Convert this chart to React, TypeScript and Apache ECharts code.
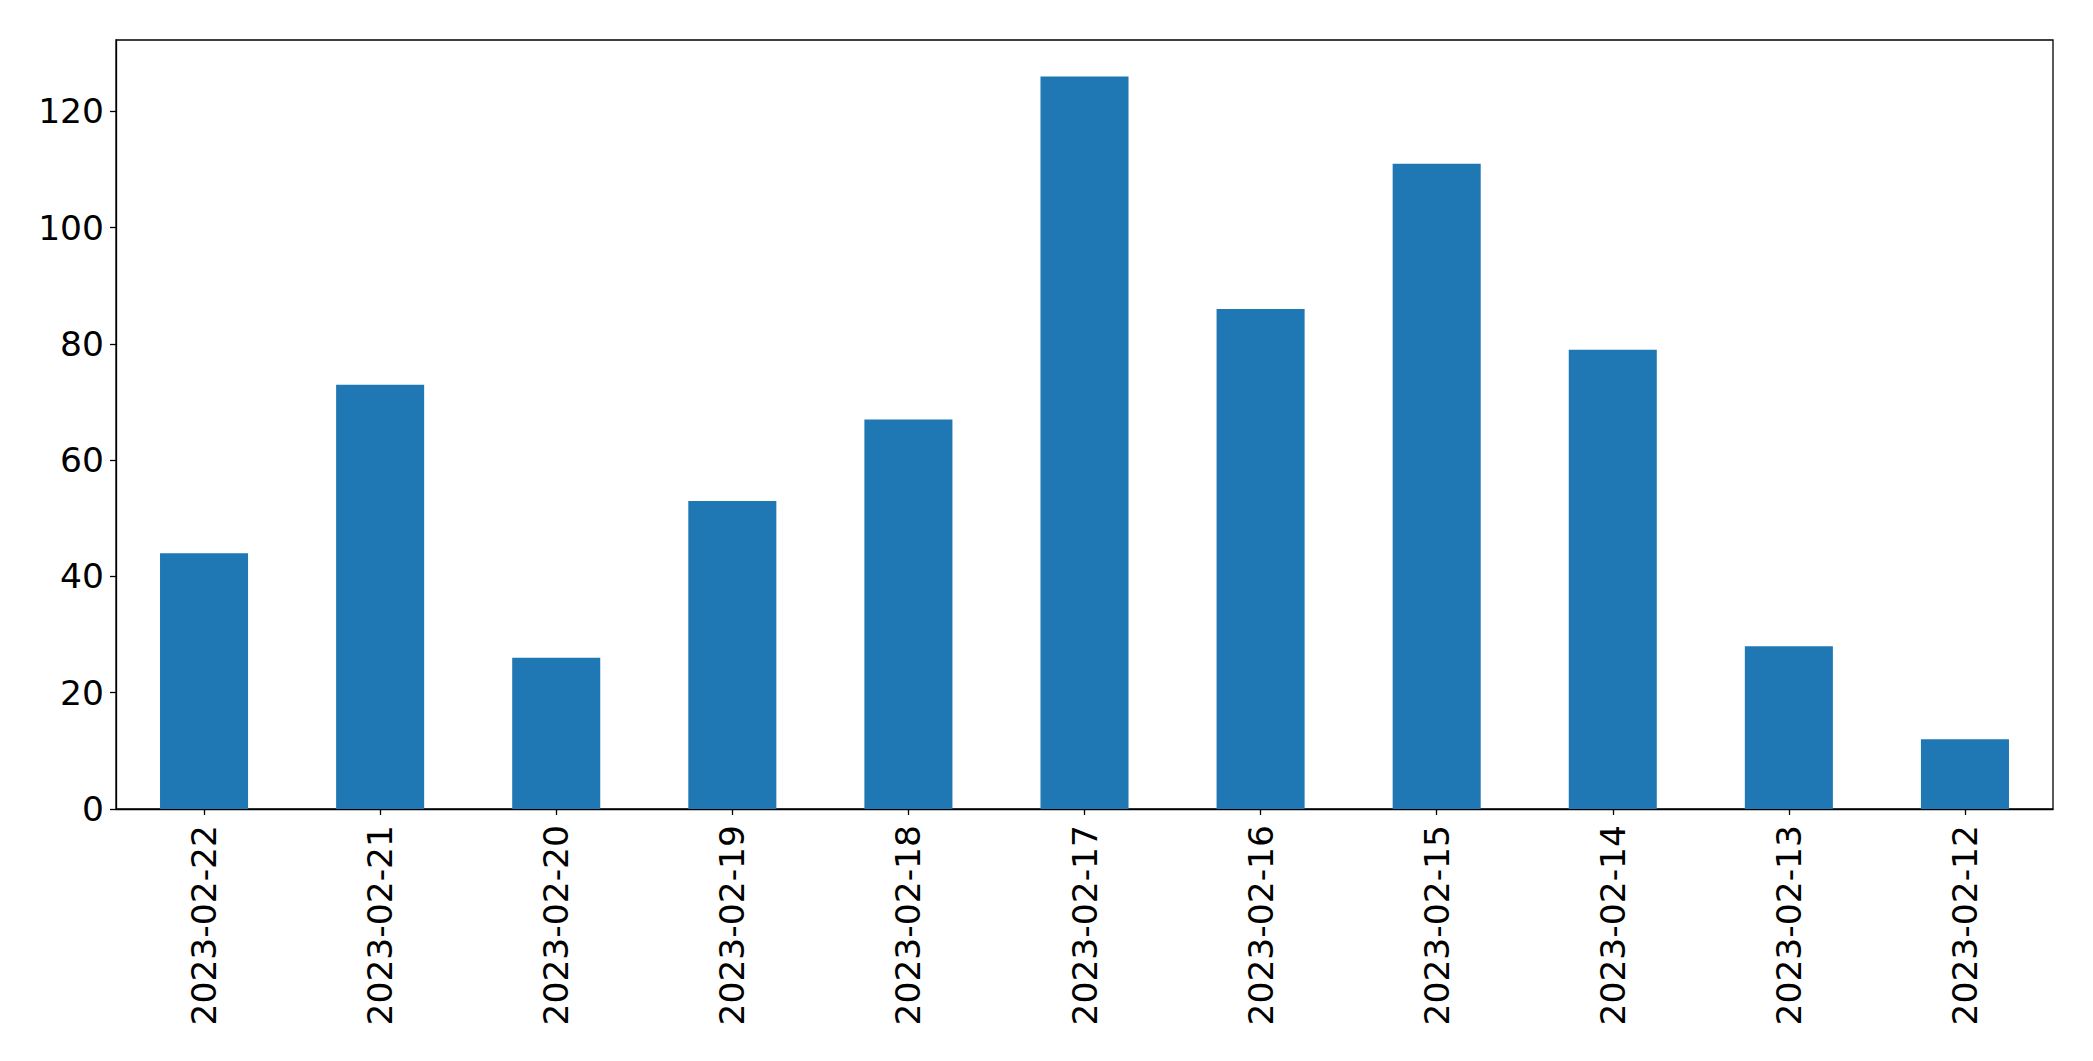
import React, { useEffect, useRef } from "react";
import * as echarts from "echarts";

const categories = [
  "2023-02-22", "2023-02-21", "2023-02-20", "2023-02-19", "2023-02-18", "2023-02-17",
  "2023-02-16", "2023-02-15", "2023-02-14", "2023-02-13", "2023-02-12",
];
const values = [44, 73, 26, 53, 67, 126, 86, 111, 79, 28, 12];
const yMax = 132.3;
const yInterval = 20;

export default function App() {
  const ref = useRef<HTMLDivElement>(null);
  useEffect(() => {
    document.body.style.margin = "0";
    const chart = echarts.init(ref.current!, null, { renderer: "svg" });
    const font = "DejaVu Sans";
    chart.setOption({
      animation: false,
      backgroundColor: "#ffffff",
      grid: {
        left: 116,
        right: 40,
        top: 40,
        bottom: 252,
        show: true,
        borderColor: "#000000",
        borderWidth: 1.3,
        containLabel: false,
      },
      xAxis: {
        type: "category",
        data: categories,
        axisLine: { show: true, lineStyle: { color: "#000", width: 1.3 } },
        axisTick: { show: true, alignWithLabel: true, length: 6, lineStyle: { color: "#000", width: 1.3 } },
        axisLabel: {
          rotate: 90,
          interval: 0,
          margin: 16,
          color: "#000",
          fontFamily: font,
          fontSize: 34.5,
        },
        splitLine: { show: false },
      },
      yAxis: {
        type: "value",
        min: 0,
        max: yMax,
        interval: yInterval,
        axisLine: { show: true, lineStyle: { color: "#000", width: 1.3 } },
        axisTick: { show: true, length: 6, lineStyle: { color: "#000", width: 1.3 } },
        axisLabel: {
          showMaxLabel: false,
          margin: 12,
          color: "#000",
          fontFamily: font,
          fontSize: 34.5,
        },
        splitLine: { show: false },
      },
      series: [
        {
          type: "bar",
          data: values,
          barWidth: "50%",
          itemStyle: { color: "#1f77b4" },
        },
      ],
    });
    return () => chart.dispose();
  }, []);
  return (
    <div
      ref={ref}
      style={{ position: "absolute", left: 0, top: 0, width: 2093, height: 1061 }}
    />
  );
}
